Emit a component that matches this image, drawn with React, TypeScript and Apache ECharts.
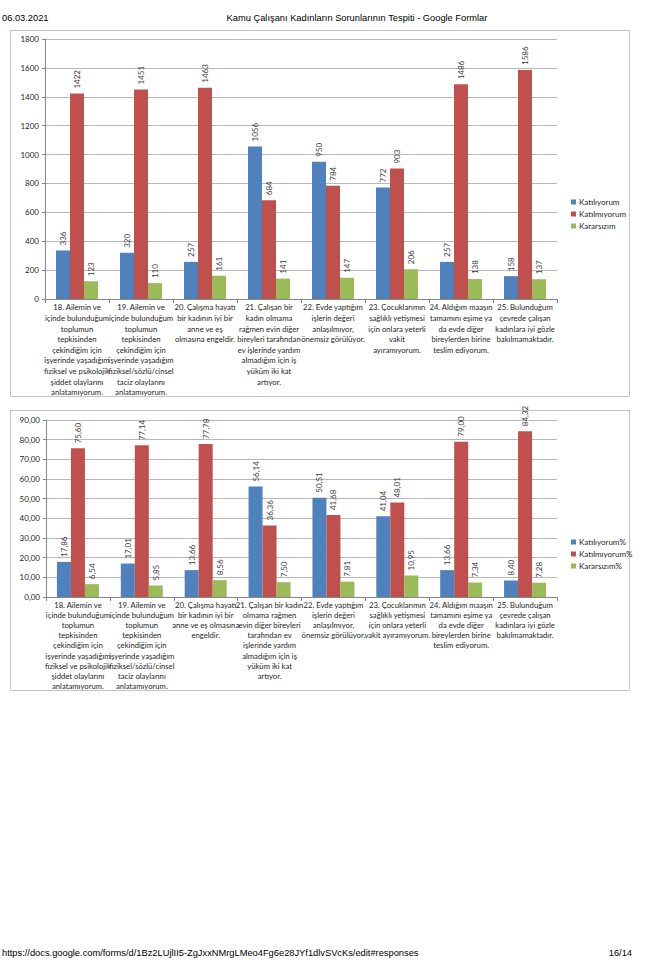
import React, { useEffect, useRef } from "react";
import * as echarts from "echarts";

const categoriesTop = [
  "18. Ailemin ve\niçinde bulunduğum\ntoplumun\ntepkisinden\nçekindiğim için\nişyerinde yaşadığım\nfiziksel ve psikolojik\nşiddet olaylarını\nanlatamıyorum.",
  "19. Ailemin ve\niçinde bulunduğum\ntoplumun\ntepkisinden\nçekindiğim için\nişyerinde yaşadığım\nfiziksel/sözlü/cinsel\ntaciz olaylarını\nanlatamıyorum.",
  "20. Çalışma hayatı\nbir kadının iyi bir\nanne ve eş\nolmasına engeldir.",
  "21. Çalışan bir\nkadın olmama\nrağmen evin diğer\nbireyleri tarafından\nev işlerinde yardım\nalmadığım için iş\nyüküm iki kat\nartıyor.",
  "22. Evde yaptığım\nişlerin değeri\nanlaşılmıyor,\nönemsiz görülüyor.",
  "23. Çocuklarımın\nsağlıklı yetişmesi\niçin onlara yeterli\nvakit\nayıramıyorum.",
  "24. Aldığım maaşın\ntamamını eşime ya\nda evde diğer\nbireylerden birine\nteslim ediyorum.",
  "25. Bulunduğum\nçevrede çalışan\nkadınlara iyi gözle\nbakılmamaktadır.",
];

const categoriesBottom = [
  "18. Ailemin ve\niçinde bulunduğum\ntoplumun\ntepkisinden\nçekindiğim için\nişyerinde yaşadığım\nfiziksel ve psikolojik\nşiddet olaylarını\nanlatamıyorum.",
  "19. Ailemin ve\niçinde bulunduğum\ntoplumun\ntepkisinden\nçekindiğim için\nişyerinde yaşadığım\nfiziksel/sözlü/cinsel\ntaciz olaylarını\nanlatamıyorum.",
  "20. Çalışma hayatı\nbir kadının iyi bir\nanne ve eş olmasına\nengeldir.",
  "21. Çalışan bir kadın\nolmama rağmen\nevin diğer bireyleri\ntarafından ev\nişlerinde yardım\nalmadığım için iş\nyüküm iki kat\nartıyor.",
  "22. Evde yaptığım\nişlerin değeri\nanlaşılmıyor,\nönemsiz görülüyor.",
  "23. Çocuklarımın\nsağlıklı yetişmesi\niçin onlara yeterli\nvakit ayıramıyorum.",
  "24. Aldığım maaşın\ntamamını eşime ya\nda evde diğer\nbireylerden birine\nteslim ediyorum.",
  "25. Bulunduğum\nçevrede çalışan\nkadınlara iyi gözle\nbakılmamaktadır.",
];

const agreeCount = [336, 320, 257, 1056, 950, 772, 257, 158];
const disagreeCount = [1422, 1451, 1463, 684, 784, 903, 1486, 1586];
const undecidedCount = [123, 110, 161, 141, 147, 206, 138, 137];

const agreePct = [17.86, 17.01, 13.66, 56.14, 50.51, 41.04, 13.66, 8.4];
const disagreePct = [75.6, 77.14, 77.78, 36.36, 41.68, 48.01, 79.0, 84.32];
const undecidedPct = [6.54, 5.85, 8.56, 7.5, 7.81, 10.95, 7.34, 7.28];

const seriesNamesTop = ["Katılıyorum", "Katılmıyorum", "Kararsızım"];
const seriesNamesBottom = ["Katılıyorum%", "Katılmıyorum%", "Kararsızım%"];

const headerDate = "06.03.2021";
const headerTitle = "Kamu Çalışanı Kadınların Sorunlarının Tespiti - Google Formlar";
const footerUrl = "https://docs.google.com/forms/d/1Bz2LUjlII5-ZgJxxNMrgLMeo4Fg6e28JYf1dlvSVcKs/edit#responses";
const footerPage = "16/14";

const COLORS = ["#4F81BD", "#C0504D", "#9BBB59"];
const FONT = "Lato";
const PAGE_FONT = "Liberation Sans";
const PAGE_FS = 9.3;

const fmtPct = (v: number) => v.toFixed(2).replace(".", ",");

export default function App() {
  const ref = useRef<HTMLDivElement>(null);
  useEffect(() => {
    if (!ref.current) return;
    const chart = echarts.init(ref.current, undefined, { renderer: "svg" });

    const barLabel = (pct: boolean) => ({
      show: true,
      position: "top" as const,
      rotate: 90,
      align: "left" as const,
      verticalAlign: "middle" as const,
      distance: 5,
      fontSize: 8,
      fontFamily: FONT,
      color: "#404040",
      formatter: (p: any) => (pct ? fmtPct(p.value) : String(p.value)),
    });

    const mkSeries = (names: string[], data: number[][], idx: number, pct: boolean) =>
      names.map((n, i) => ({
        name: n,
        type: "bar" as const,
        xAxisIndex: idx,
        yAxisIndex: idx,
        data: data[i],
        barWidth: 14,
        barGap: "0%",
        itemStyle: { color: COLORS[i] },
        label: barLabel(pct),
      }));

    const xAxisBase = (cats: string[], gi: number, lh: number) => ({
      type: "category" as const,
      gridIndex: gi,
      data: cats,
      axisLine: { lineStyle: { color: "#868686", width: 1 } },
      axisTick: { show: true, length: 4, lineStyle: { color: "#868686" } },
      axisLabel: {
        interval: 0,
        fontSize: 7.7,
        fontFamily: FONT,
        color: "#262626",
        lineHeight: lh,
        margin: 3,
        align: "center" as const,
      },
    });

    const yAxisBase = (gi: number, max: number, interval: number, pct: boolean) => ({
      type: "value" as const,
      gridIndex: gi,
      min: 0,
      max,
      interval,
      axisLine: { show: true, lineStyle: { color: "#868686" } },
      axisTick: { show: true, length: 3, lineStyle: { color: "#868686" } },
      axisLabel: {
        fontSize: 8,
        fontFamily: FONT,
        color: "#262626",
        margin: 6,
        formatter: (v: number) => (pct ? fmtPct(v) : String(v)),
      },
      splitLine: { show: true, lineStyle: { color: "#b8b8b8", width: 1 } },
    });

    const legendBase = (names: string[], top: number) => ({
      data: names,
      orient: "vertical" as const,
      left: 566,
      top,
      itemWidth: 5,
      itemHeight: 5,
      itemGap: 4,
      icon: "rect",
      textStyle: { fontSize: 8, fontFamily: FONT, color: "#262626", padding: [0, 0, 0, -2] },
      selectedMode: false,
    });

    const pageText = (text: string, x: number, y: number, align: string) => ({
      type: "text",
      x,
      y,
      style: {
        text,
        fontSize: PAGE_FS,
        fontFamily: PAGE_FONT,
        fill: "#000",
        align,
        verticalAlign: "middle",
      },
    });

    chart.setOption({
      animation: false,
      backgroundColor: "#ffffff",
      grid: [
        { left: 45, top: 39, width: 512, height: 260 },
        { left: 46, top: 420, width: 511, height: 177 },
      ],
      xAxis: [xAxisBase(categoriesTop, 0, 10.6), xAxisBase(categoriesBottom, 1, 10.1)],
      yAxis: [yAxisBase(0, 1800, 200, false), yAxisBase(1, 90, 10, true)],
      legend: [legendBase(seriesNamesTop, 193), legendBase(seriesNamesBottom, 533)],
      series: [
        ...mkSeries(seriesNamesTop, [agreeCount, disagreeCount, undecidedCount], 0, false),
        ...mkSeries(seriesNamesBottom, [agreePct, disagreePct, undecidedPct], 1, true),
      ],
      graphic: [
        {
          type: "rect",
          z: -10,
          shape: { x: 10.5, y: 30.5, width: 619, height: 366 },
          style: { fill: "none", stroke: "#c4c4c4", lineWidth: 1 },
          silent: true,
        },
        {
          type: "rect",
          z: -10,
          shape: { x: 10.5, y: 410.5, width: 619, height: 280 },
          style: { fill: "none", stroke: "#c4c4c4", lineWidth: 1 },
          silent: true,
        },
        pageText(headerDate, 2, 18, "left"),
        pageText(headerTitle, 357, 18, "center"),
        pageText(footerUrl, 2, 953, "left"),
        pageText(footerPage, 632, 953, "right"),
      ],
    });
    return () => chart.dispose();
  }, []);

  return (
    <div
      ref={ref}
      style={{ position: "absolute", left: 0, top: 0, width: 660, height: 964, background: "#fff" }}
    />
  );
}
